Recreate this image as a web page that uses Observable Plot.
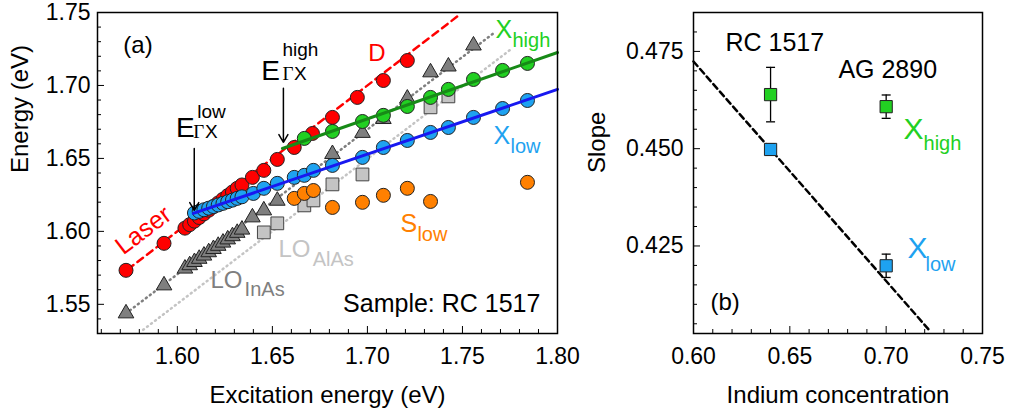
<!DOCTYPE html>
<html><head><meta charset="utf-8">
<script src="https://cdn.jsdelivr.net/npm/d3@7"></script>
<script src="https://cdn.jsdelivr.net/npm/@observablehq/plot@0.6"></script>
<style>
body{margin:0;background:#fff;}
#wrap{position:relative;width:1010px;height:417px;overflow:hidden;}
#a,#b{position:absolute;top:0;}
#a{left:0;} #b{left:580px;}
</style></head><body><div id="wrap"><div id="a"></div><div id="b"></div></div>
<script>
// ---------- Panel (a): excitation energy (x) vs emission energy (y), eV ----------
const dX = [1.573, 1.593, 1.604, 1.6065, 1.609, 1.6115, 1.614, 1.6165, 1.619, 1.6215, 1.624, 1.6265, 1.629, 1.6315, 1.634, 1.6395, 1.6455, 1.6526, 1.6615, 1.6711, 1.6816, 1.6947, 1.7084, 1.721];
const dY = [1.5733, 1.5918, 1.6022, 1.6046, 1.607, 1.6095, 1.612, 1.6145, 1.617, 1.6195, 1.622, 1.6245, 1.627, 1.6295, 1.6318, 1.6370, 1.6418, 1.6493, 1.6575, 1.6671, 1.6781, 1.6918, 1.7034, 1.7171];
const xLowX = [1.609, 1.6115, 1.614, 1.6165, 1.619, 1.6215, 1.624, 1.6265, 1.629, 1.6315, 1.634, 1.640, 1.6455, 1.6526, 1.6615, 1.6668, 1.6716, 1.6816, 1.6974, 1.7084, 1.721, 1.7332, 1.7426, 1.7558, 1.7711, 1.7842];
const xLowY = [1.6126, 1.6137, 1.6148, 1.6159, 1.6170, 1.6181, 1.6192, 1.6203, 1.6214, 1.6226, 1.6237, 1.6260, 1.6295, 1.6329, 1.6370, 1.6384, 1.6418, 1.6452, 1.6507, 1.6575, 1.6623, 1.6678, 1.6712, 1.6781, 1.6842, 1.6897];
const xHighX = [1.6668, 1.6816, 1.6974, 1.7084, 1.721, 1.7332, 1.7426, 1.7558, 1.7711, 1.7842];
const xHighY = [1.6637, 1.6685, 1.6753, 1.6795, 1.6856, 1.6918, 1.6973, 1.7041, 1.7103, 1.7151];
const loInAsX = [1.573, 1.593, 1.604, 1.6065, 1.609, 1.6115, 1.614, 1.6165, 1.619, 1.6215, 1.624, 1.6265, 1.629, 1.6315, 1.634, 1.6395, 1.6455, 1.6526, 1.6816, 1.6974, 1.7084, 1.721, 1.7332, 1.7426, 1.7558];
const loInAsY = [1.5438, 1.5630, 1.5745, 1.5768, 1.5790, 1.5812, 1.5834, 1.5857, 1.5879, 1.5901, 1.5923, 1.5945, 1.5967, 1.5990, 1.6012, 1.6096, 1.6144, 1.6210, 1.6530, 1.6675, 1.6770, 1.6910, 1.7090, 1.7130, 1.7274];
const loAlAsX = [1.6455, 1.6526, 1.6668, 1.6716, 1.6816, 1.6974, 1.7332, 1.7426];
const loAlAsY = [1.5993, 1.6055, 1.6178, 1.6212, 1.6322, 1.6390, 1.6850, 1.6925];
const sLowX = [1.6615, 1.6668, 1.6716, 1.6816, 1.6974, 1.7084, 1.721, 1.7332, 1.7842];
const sLowY = [1.6226, 1.6260, 1.6280, 1.6164, 1.6199, 1.6247, 1.6295, 1.6205, 1.6336];
// guide / fit lines (end points)
const laserX = [1.574, 1.749], laserY = [1.574, 1.749];
const loInAsLineX = [1.573, 1.767], loInAsLineY = [1.5438, 1.7364];
const loAlAsLineX = [1.582, 1.776], loAlAsLineY = [1.5325, 1.7253];
const xHighLineX = [1.6553, 1.80], xHighLineY = [1.6568, 1.7226];
const xLowLineX = [1.6084, 1.80], xLowLineY = [1.6123, 1.6973];
// ticks
const xMajorA = [1.60, 1.65, 1.70, 1.75, 1.80];
const xMinorA = [1.56, 1.57, 1.58, 1.59, 1.61, 1.62, 1.63, 1.64, 1.66, 1.67, 1.68, 1.69, 1.71, 1.72, 1.73, 1.74, 1.76, 1.77, 1.78, 1.79];
const yMajorA = [1.55, 1.60, 1.65, 1.70, 1.75];
const yMinorA = [1.54, 1.56, 1.57, 1.58, 1.59, 1.61, 1.62, 1.63, 1.64, 1.66, 1.67, 1.68, 1.69, 1.71, 1.72, 1.73, 1.74];

// ---------- Panel (b): slope vs indium concentration ----------
const conc = [0.64, 0.70];
const slopeHigh = [0.4639, 0.4608], errHigh = [0.0070, 0.0030];
const slopeLow = [0.4498, 0.4199], errLow = [0.0015, 0.0030];
const fitX = [0.60, 0.7225], fitY = [0.4724, 0.4033];
const xMajorB = [0.60, 0.65, 0.70, 0.75];
const xMinorB = [0.61, 0.62, 0.63, 0.64, 0.66, 0.67, 0.68, 0.69, 0.71, 0.72, 0.73, 0.74];
const yMajorB = [0.425, 0.450, 0.475];
const yMinorB = [0.405, 0.410, 0.415, 0.420, 0.430, 0.435, 0.440, 0.445, 0.455, 0.460, 0.465, 0.470, 0.480];

// colours
const RED = "#ff0000", GREEN = "#22d022", DKGREEN = "#178a17", LBLUE = "#1ea2f0", BLUE = "#1818f0",
      ORANGE = "#ff8000", GRAY = "#7f7f7f", LGRAY = "#c4c4c4", OUT = "#222";
const FONT = "Liberation Sans, Arial, sans-serif";

// annotations
const annA = [
  {t: "(a)", x: 1.5716, y: 1.7274, s: 24, c: "black"},
  {t: "E", x: 1.6442, y: 1.7100, s: 28, c: "black"},
  {t: "high", x: 1.6553, y: 1.7245, s: 19, c: "black"},
  {t: "X", x: 1.6614, y: 1.7080, s: 19, c: "black"},
  {t: "E", x: 1.5993, y: 1.6707, s: 28, c: "black"},
  {t: "low", x: 1.6105, y: 1.6820, s: 19, c: "black"},
  {t: "X", x: 1.6145, y: 1.6683, s: 19, c: "black"},
  {t: "D", x: 1.7005, y: 1.7219, s: 24, c: RED},
  {t: "X", x: 1.7674, y: 1.7381, s: 25, c: GREEN},
  {t: "high", x: 1.7763, y: 1.7308, s: 20, c: GREEN},
  {t: "X", x: 1.7663, y: 1.6655, s: 25, c: LBLUE},
  {t: "low", x: 1.7753, y: 1.6582, s: 20, c: LBLUE},
  {t: "S", x: 1.7174, y: 1.6053, s: 25, c: ORANGE},
  {t: "low", x: 1.7263, y: 1.5980, s: 20, c: ORANGE},
  {t: "LO", x: 1.6532, y: 1.5875, s: 24, c: LGRAY},
  {t: "AlAs", x: 1.6712, y: 1.5808, s: 20, c: LGRAY},
  {t: "LO", x: 1.6174, y: 1.5662, s: 24, c: GRAY},
  {t: "InAs", x: 1.6354, y: 1.5603, s: 20, c: GRAY},
  {t: "Sample: RC 1517", x: 1.6872, y: 1.5505, s: 25, c: "black"}
];
const gammaA = [{t: "Γ", x: 1.6553, y: 1.7080}, {t: "Γ", x: 1.6084, y: 1.6683}];
const laserLabel = [{t: "Laser", x: 1.5821, y: 1.6007}];
const arrowsA = [{x: 1.6558, y1: 1.698, y2: 1.661}, {x: 1.6089, y1: 1.6568, y2: 1.6144}];
const annB = [
  {t: "RC 1517", x: 0.6166, y: 0.4771, s: 25, c: "black"},
  {t: "AG 2890", x: 0.6752, y: 0.4702, s: 25, c: "black"},
  {t: "X", x: 0.7090, y: 0.4550, s: 30, c: GREEN},
  {t: "high", x: 0.7194, y: 0.4513, s: 20, c: GREEN},
  {t: "X", x: 0.7111, y: 0.4243, s: 30, c: LBLUE},
  {t: "low", x: 0.7204, y: 0.4203, s: 20, c: LBLUE},
  {t: "(b)", x: 0.6088, y: 0.4104, s: 24, c: "black"}
];

const pts = (xs, ys) => xs.map((x, i) => ({x, y: ys[i]}));
const blank = () => "";

function axes(xMajor, xMinor, yMajor, yMinor, xfmt, yfmt, xpad, ypad) {
  return [
    Plot.axisX(xMinor, {anchor: "bottom", tickSize: -4, tickFormat: blank, label: null}),
    Plot.axisX(xMajor, {anchor: "bottom", tickSize: -7, tickFormat: blank, label: null}),
    Plot.axisX(xMajor, {anchor: "bottom", tickSize: 0, tickPadding: xpad, tickFormat: d3.format(xfmt), label: null}),
    Plot.axisY(yMinor, {anchor: "left", tickSize: -4, tickFormat: blank, label: null}),
    Plot.axisY(yMajor, {anchor: "left", tickSize: -7, tickFormat: blank, label: null}),
    Plot.axisY(yMajor, {anchor: "left", tickSize: 0, tickPadding: ypad, tickFormat: d3.format(yfmt), label: null})
  ];
}
function annot(list) {
  return Plot.text(list, {x: "x", y: "y", text: "t", fontSize: "s", fill: "c", textAnchor: "start", lineAnchor: "middle"});
}

const A = Plot.plot({
  width: 580, height: 417, marginLeft: 97, marginRight: 23, marginTop: 12, marginBottom: 84,
  style: {fontFamily: FONT, fontSize: "23px", background: "white", color: "black"},
  x: {domain: [1.558, 1.80]}, y: {domain: [1.53, 1.75]},
  color: {type: "identity"},
  marks: [
    Plot.line(pts(loAlAsLineX, loAlAsLineY), {x: "x", y: "y", stroke: LGRAY, strokeWidth: 2.5, strokeDasharray: "1,4", strokeLinecap: "round"}),
    Plot.line(pts(loInAsLineX, loInAsLineY), {x: "x", y: "y", stroke: GRAY, strokeWidth: 2.5, strokeDasharray: "1,4", strokeLinecap: "round"}),
    Plot.line(pts(laserX, laserY), {x: "x", y: "y", stroke: RED, strokeWidth: 2.5, strokeDasharray: "7,5"}),
    Plot.dot(pts(loAlAsX, loAlAsY), {x: "x", y: "y", symbol: "square", r: 7.2, fill: LGRAY, stroke: "#444", strokeWidth: 1}),
    Plot.dot(pts(loInAsX, loInAsY), {x: "x", y: "y", symbol: "triangle", r: 5.8, fill: GRAY, stroke: OUT, strokeWidth: 1}),
    Plot.dot(pts(sLowX, sLowY), {x: "x", y: "y", r: 7, fill: ORANGE, stroke: OUT, strokeWidth: 1}),
    Plot.dot(pts(dX, dY), {x: "x", y: "y", r: 7, fill: RED, stroke: OUT, strokeWidth: 1}),
    Plot.dot(pts(xLowX, xLowY), {x: "x", y: "y", r: 7, fill: LBLUE, stroke: OUT, strokeWidth: 1}),
    Plot.dot(pts(xHighX, xHighY), {x: "x", y: "y", r: 7, fill: GREEN, stroke: OUT, strokeWidth: 1}),
    Plot.line(pts(xLowLineX, xLowLineY), {x: "x", y: "y", stroke: BLUE, strokeWidth: 3}),
    Plot.line(pts(xHighLineX, xHighLineY), {x: "x", y: "y", stroke: DKGREEN, strokeWidth: 3}),
    Plot.arrow(arrowsA, {x1: "x", x2: "x", y1: "y1", y2: "y2", stroke: "black", strokeWidth: 1.5, headLength: 9}),
    annot(annA),
    Plot.text(gammaA, {x: "x", y: "y", text: "t", fontSize: 19, fontFamily: "Liberation Serif, serif", textAnchor: "start", fill: "black"}),
    Plot.text(laserLabel, {x: "x", y: "y", text: "t", fontSize: 25, fill: RED, rotate: -37, textAnchor: "middle"}),
    ...axes(xMajorA, xMinorA, yMajorA, yMinorA, ".2f", ".2f", 14, 7),
    Plot.text(["Excitation energy (eV)"], {frameAnchor: "bottom", dy: 62, text: d => d, fontSize: 24, lineAnchor: "middle"}),
    Plot.text(["Energy (eV)"], {frameAnchor: "left", dx: -77, rotate: -90, text: d => d, fontSize: 24, lineAnchor: "middle"}),
    Plot.frame({stroke: "black", strokeWidth: 1.5})
  ]
});
document.getElementById("a").append(A);

const highPts = pts(conc, slopeHigh), lowPts = pts(conc, slopeLow);
const bars = [...conc.map((x, i) => ({x, lo: slopeHigh[i] - errHigh[i], hi: slopeHigh[i] + errHigh[i]})),
              ...conc.map((x, i) => ({x, lo: slopeLow[i] - errLow[i], hi: slopeLow[i] + errLow[i]}))];
const caps = bars.flatMap(b => [{x: b.x, y: b.lo}, {x: b.x, y: b.hi}]);
const capSymbol = {draw(ctx) { ctx.moveTo(-4.5, 0); ctx.lineTo(4.5, 0); }};

const B = Plot.plot({
  width: 430, height: 417, marginLeft: 113, marginRight: 28, marginTop: 12, marginBottom: 84,
  style: {fontFamily: FONT, fontSize: "23px", background: "white", color: "black"},
  x: {domain: [0.60, 0.75]}, y: {domain: [0.4025, 0.485]},
  color: {type: "identity"},
  marks: [
    Plot.line(pts(fitX, fitY), {x: "x", y: "y", stroke: "black", strokeWidth: 2.5, strokeDasharray: "6,4"}),
    Plot.ruleX(bars, {x: "x", y1: "lo", y2: "hi", stroke: "black", strokeWidth: 1.3}),
    Plot.dot(caps, {x: "x", y: "y", symbol: capSymbol, r: 4, fill: "none", stroke: "black", strokeWidth: 1.3}),
    Plot.dot(highPts, {x: "x", y: "y", symbol: "square", r: 6.9, fill: GREEN, stroke: OUT, strokeWidth: 1}),
    Plot.dot(lowPts, {x: "x", y: "y", symbol: "square", r: 6.9, fill: LBLUE, stroke: OUT, strokeWidth: 1}),
    annot(annB),
    ...axes(xMajorB, xMinorB, yMajorB, yMinorB, ".2f", ".3f", 14, 10),
    Plot.text(["Indium concentration"], {frameAnchor: "bottom", dy: 62, text: d => d, fontSize: 24, lineAnchor: "middle"}),
    Plot.text(["Slope"], {frameAnchor: "left", dx: -96, rotate: -90, text: d => d, fontSize: 24, lineAnchor: "middle"}),
    Plot.frame({stroke: "black", strokeWidth: 1.5})
  ]
});
document.getElementById("b").append(B);
</script></body></html>
